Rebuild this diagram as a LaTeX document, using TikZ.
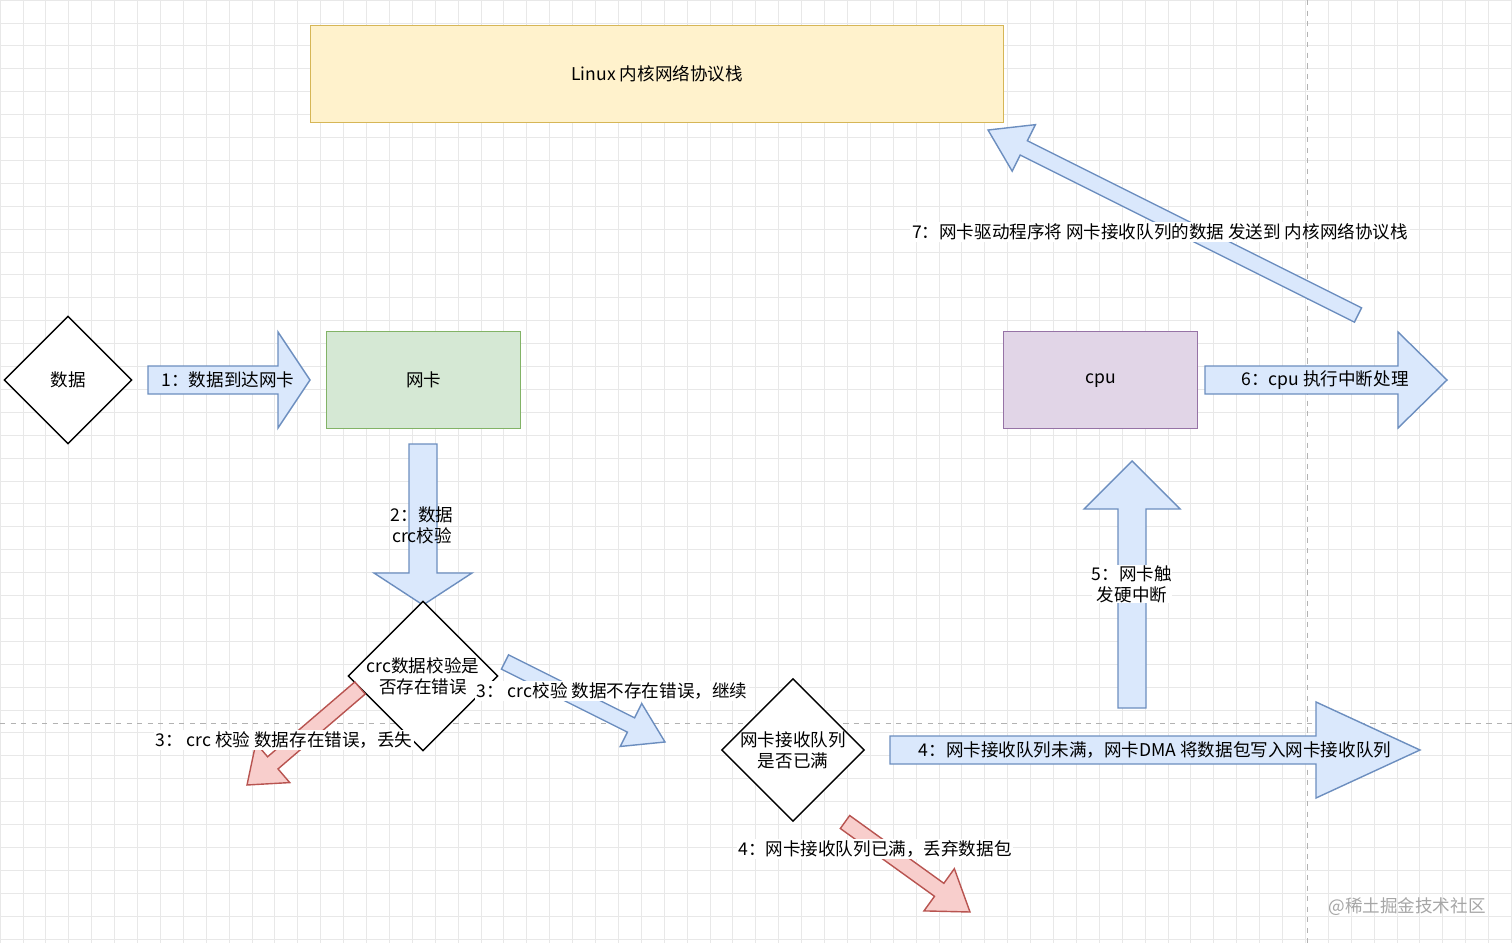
\documentclass[tikz,border=0pt]{standalone}
\usepackage{fontspec}
\setmainfont{Noto Sans CJK SC}
\usetikzlibrary{shapes.geometric}
\definecolor{bfill}{HTML}{DAE8FC}\definecolor{bline}{HTML}{6C8EBF}
\definecolor{rfill}{HTML}{F8CECC}\definecolor{rline}{HTML}{B85450}
\definecolor{yfill}{HTML}{FFF2CC}\definecolor{yline}{HTML}{D6B656}
\definecolor{gfill}{HTML}{D5E8D4}\definecolor{gline}{HTML}{82B366}
\definecolor{pfill}{HTML}{E1D5E7}\definecolor{pline}{HTML}{9673A6}
\newcommand\blockarrow[8]{%
 \pgfmathsetmacro\ba{atan2(-(#5)+(#3),(#4)-(#2))}%
 \pgfmathsetmacro\bl{veclen((#4)-(#2),(#5)-(#3))}%
 \pgfmathsetmacro\bm{\bl-#8}%
 \draw[#1,shift={(#2,-#3)},rotate=\ba] (0,-#6) -- (\bm,-#6) -- (\bm,-#7) -- (\bl,0) -- (\bm,#7) -- (\bm,#6) -- (0,#6) -- cycle;}
\tikzset{
 barr/.style={fill=bfill,draw=bline,line width=0.8pt},
 rarr/.style={fill=rfill,draw=rline,line width=0.8pt},
 dia/.style={diamond,draw,fill=white,line width=0.8pt,minimum width=2.56cm,minimum height=2.56cm,inner sep=0pt,align=center},
 box/.style={draw,line width=0.8pt,minimum width=3.88cm,minimum height=1.94cm,anchor=north west},
 lbl/.style={font=\fontsize{10}{12}\selectfont,align=center,inner sep=1pt},
}
\begin{document}
\begin{tikzpicture}[x=0.02cm,y=0.02cm,font=\fontsize{10}{12}\selectfont]
\useasboundingbox (0,0) rectangle (1512,-943);
\fill[white] (0,0) rectangle (1512,-943);
\foreach \i in {0,...,66} {\draw[gray!18,line width=0.4pt] (\i*22.9,0) -- (\i*22.9,-943);}
\foreach \i in {0,...,41} {\draw[gray!18,line width=0.4pt] (0,-\i*22.9) -- (1512,-\i*22.9);}
\draw[gray!60,dashed,line width=0.5pt] (0,-723) -- (1512,-723);
\draw[gray!60,dashed,line width=0.5pt] (1307,0) -- (1307,-943);
\node[box,fill=yfill,draw=yline,minimum width=13.86cm] (stack) at (310,-25) {};
\node[lbl] at (stack.center) {Linux 内核网络协议栈};
\node[dia] (data) at (68,-380) {数据};
\node[box,fill=gfill,draw=gline] (nic) at (326,-331) {};
\node[lbl] at (nic.center) {网卡};
\node[box,fill=pfill,draw=pline] (cpu) at (1003,-331) {};
\node[lbl] at (cpu.center) {cpu};
% arrow 1
\blockarrow{barr}{148}{380}{310}{380}{14}{48}{32}
\node[lbl] at (228,-380) {1：数据到达网卡};
% arrow 2
\blockarrow{barr}{423}{444}{423}{605}{14}{49}{32}
\node[lbl] at (422,-525) {2：数据\\crc校验};
\node[dia] (crc) at (423,-676) {crc数据校验是\\否存在错误};
% arrow 3 red
\blockarrow{rarr}{360}{688}{247}{785}{8}{26}{34}
\node[lbl,fill=white] at (284,-740) {3： crc 校验 数据存在错误，丢失};
% arrow 3 blue
\blockarrow{barr}{505}{662}{665}{742}{8}{24}{38}
\node[lbl,fill=white] at (612,-691) {3： crc校验 数据不存在错误，继续};
\node[dia] (queue) at (793,-750) {网卡接收队列\\是否已满};
% arrow 4 red
\blockarrow{rarr}{845}{822}{970}{912}{8}{26}{38}
\node[lbl,fill=white] at (875,-849) {4：网卡接收队列已满，丢弃数据包};
% arrow 4 blue
\blockarrow{barr}{890}{750}{1420}{750}{14}{48}{104}
\node[lbl] at (1155,-750) {4：网卡接收队列未满，网卡DMA 将数据包写入网卡接收队列};
% arrow 5
\blockarrow{barr}{1132}{708}{1132}{461}{14}{48}{48}
\node[lbl,fill=white,inner sep=0pt] at (1132,-584) {5：网卡触\\发硬中断};
% arrow 6
\blockarrow{barr}{1205}{380}{1447}{380}{14}{48}{49}
\node[lbl] at (1325,-380) {6：cpu 执行中断处理};
% arrow 7
\blockarrow{barr}{1358}{315}{988}{130}{8}{26}{40}
\node[lbl,fill=white] at (1160,-232) {7：网卡驱动程序将 网卡接收队列的数据 发送到 内核网络协议栈};
\node[lbl,text=gray!70] at (1407,-907) {@稀土掘金技术社区};
\end{tikzpicture}
\end{document}
